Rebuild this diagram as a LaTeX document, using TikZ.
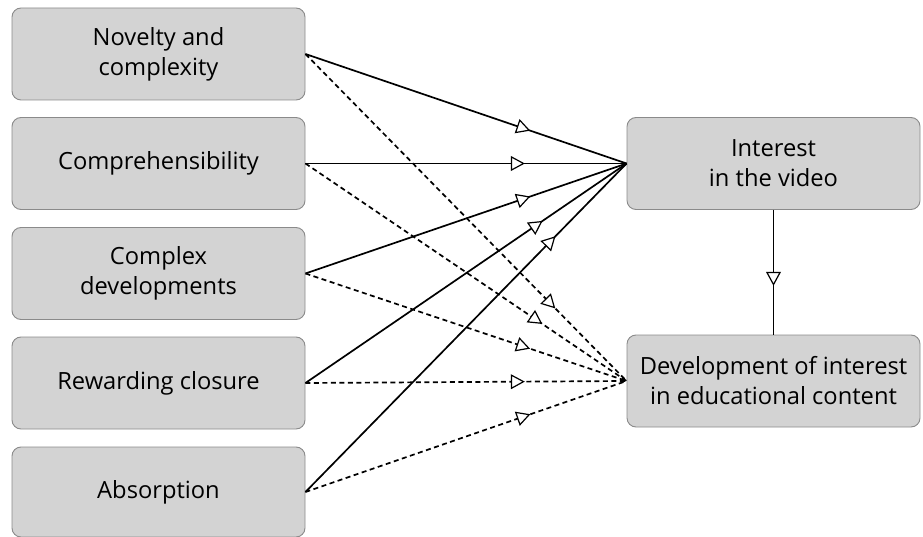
\documentclass[tikz,border=0pt]{standalone}
\usepackage{fontspec}
\setmainfont{Open Sans}
\usetikzlibrary{arrows.meta,decorations.markings}
\definecolor{boxfill}{HTML}{D3D3D3}
\definecolor{boxline}{HTML}{8A8A8A}
\begin{document}
\begin{tikzpicture}[x=1pt,y=-1pt,
  box/.style={draw=boxline,line width=0.9pt,fill=boxfill,rounded corners=9pt,
    minimum width=293pt,minimum height=92pt,inner sep=0pt,align=center,
    font=\fontsize{23.7}{30}\selectfont},
  opentip/.style={decoration={markings,mark=at position #1 with {\draw[solid,line width=1.2pt,fill=white,line join=miter] (0pt,0pt) -- (-12pt,6.5pt) -- (-12pt,-6.5pt) -- cycle;}},postaction=decorate},
  solidlink/.style={line width=1.7pt,opentip=-103pt},
  dashlink/.style={line width=1.7pt,dash pattern=on 5pt off 3.5pt,opentip=-103pt}]
\useasboundingbox (0,0) rectangle (923,537);
\node[box] (l1) at (158.5,54) {Novelty and\\complexity};
\node[box] (l2) at (158.5,163.5) {Comprehensibility};
\node[box] (l3) at (158.5,273.5) {Complex\\developments};
\node[box] (l4) at (158.5,383) {Rewarding closure};
\node[box,minimum height=90pt] (l5) at (158.5,492) {Absorption};
\node[box] (r1) at (773.5,163.5) {Interest\\in the video};
\node[box] (r2) at (773.5,381) {Development of interest\\in educational content};
\foreach \i in {1,...,5}{
  \draw[dashlink] (l\i.east) -- (r2.west);
  \draw[solidlink] (l\i.east) -- (r1.west);
}
\draw[line width=1.7pt,opentip=-50pt] (r1.south) -- (r2.north);
\end{tikzpicture}
\end{document}
